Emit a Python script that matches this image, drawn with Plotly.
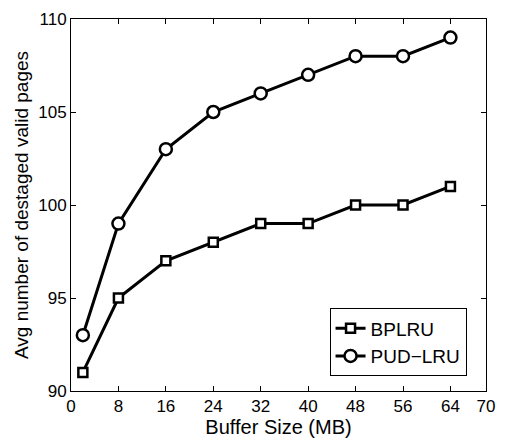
import plotly.graph_objects as go

buffer_mb = [2, 8, 16, 24, 32, 40, 48, 56, 64]
bplru = [91, 95, 97, 98, 99, 99, 100, 100, 101]
pud_lru = [93, 99, 103, 105, 106, 107, 108, 108, 109]
x_ticks = [0, 8, 16, 24, 32, 40, 48, 56, 64, 70]
y_ticks = [90, 95, 100, 105, 110]

fig = go.Figure()
fig.add_trace(go.Scatter(
    x=buffer_mb, y=bplru, name="BPLRU", mode="lines+markers",
    line=dict(color="black", width=3),
    marker=dict(symbol="square", size=9, color="white",
                line=dict(color="black", width=2.5)),
))
fig.add_trace(go.Scatter(
    x=buffer_mb, y=pud_lru, name="PUD\u2212LRU", mode="lines+markers",
    line=dict(color="black", width=3),
    marker=dict(symbol="circle", size=12, color="white",
                line=dict(color="black", width=2.5)),
))

axis_common = dict(
    showgrid=False, zeroline=False, showline=True, linecolor="black",
    linewidth=1, mirror="ticks", ticks="inside", ticklen=5,
    tickcolor="black", tickfont=dict(size=17, color="black"),
)
fig.update_xaxes(range=[0, 70], tickvals=x_ticks,
                 title=dict(text="Buffer Size (MB)", font=dict(size=20, color="black"), standoff=0),
                 **axis_common)
fig.update_yaxes(range=[90, 110], tickvals=y_ticks,
                 title=dict(text="Avg number of destaged valid pages", font=dict(size=19, color="black"), standoff=4),
                 **axis_common)

fig.update_layout(
    width=505, height=443,
    margin=dict(l=71, r=10, t=14, b=52),
    paper_bgcolor="white", plot_bgcolor="white",
    font=dict(family="Liberation Sans, Arial, sans-serif", color="black"),
    legend=dict(x=0.623, y=0.222, xanchor="left", yanchor="top",
                bgcolor="white", bordercolor="black", borderwidth=1,
                font=dict(size=19), tracegroupgap=0, itemwidth=30),
    showlegend=True,
)

fig.write_html("out.html")
